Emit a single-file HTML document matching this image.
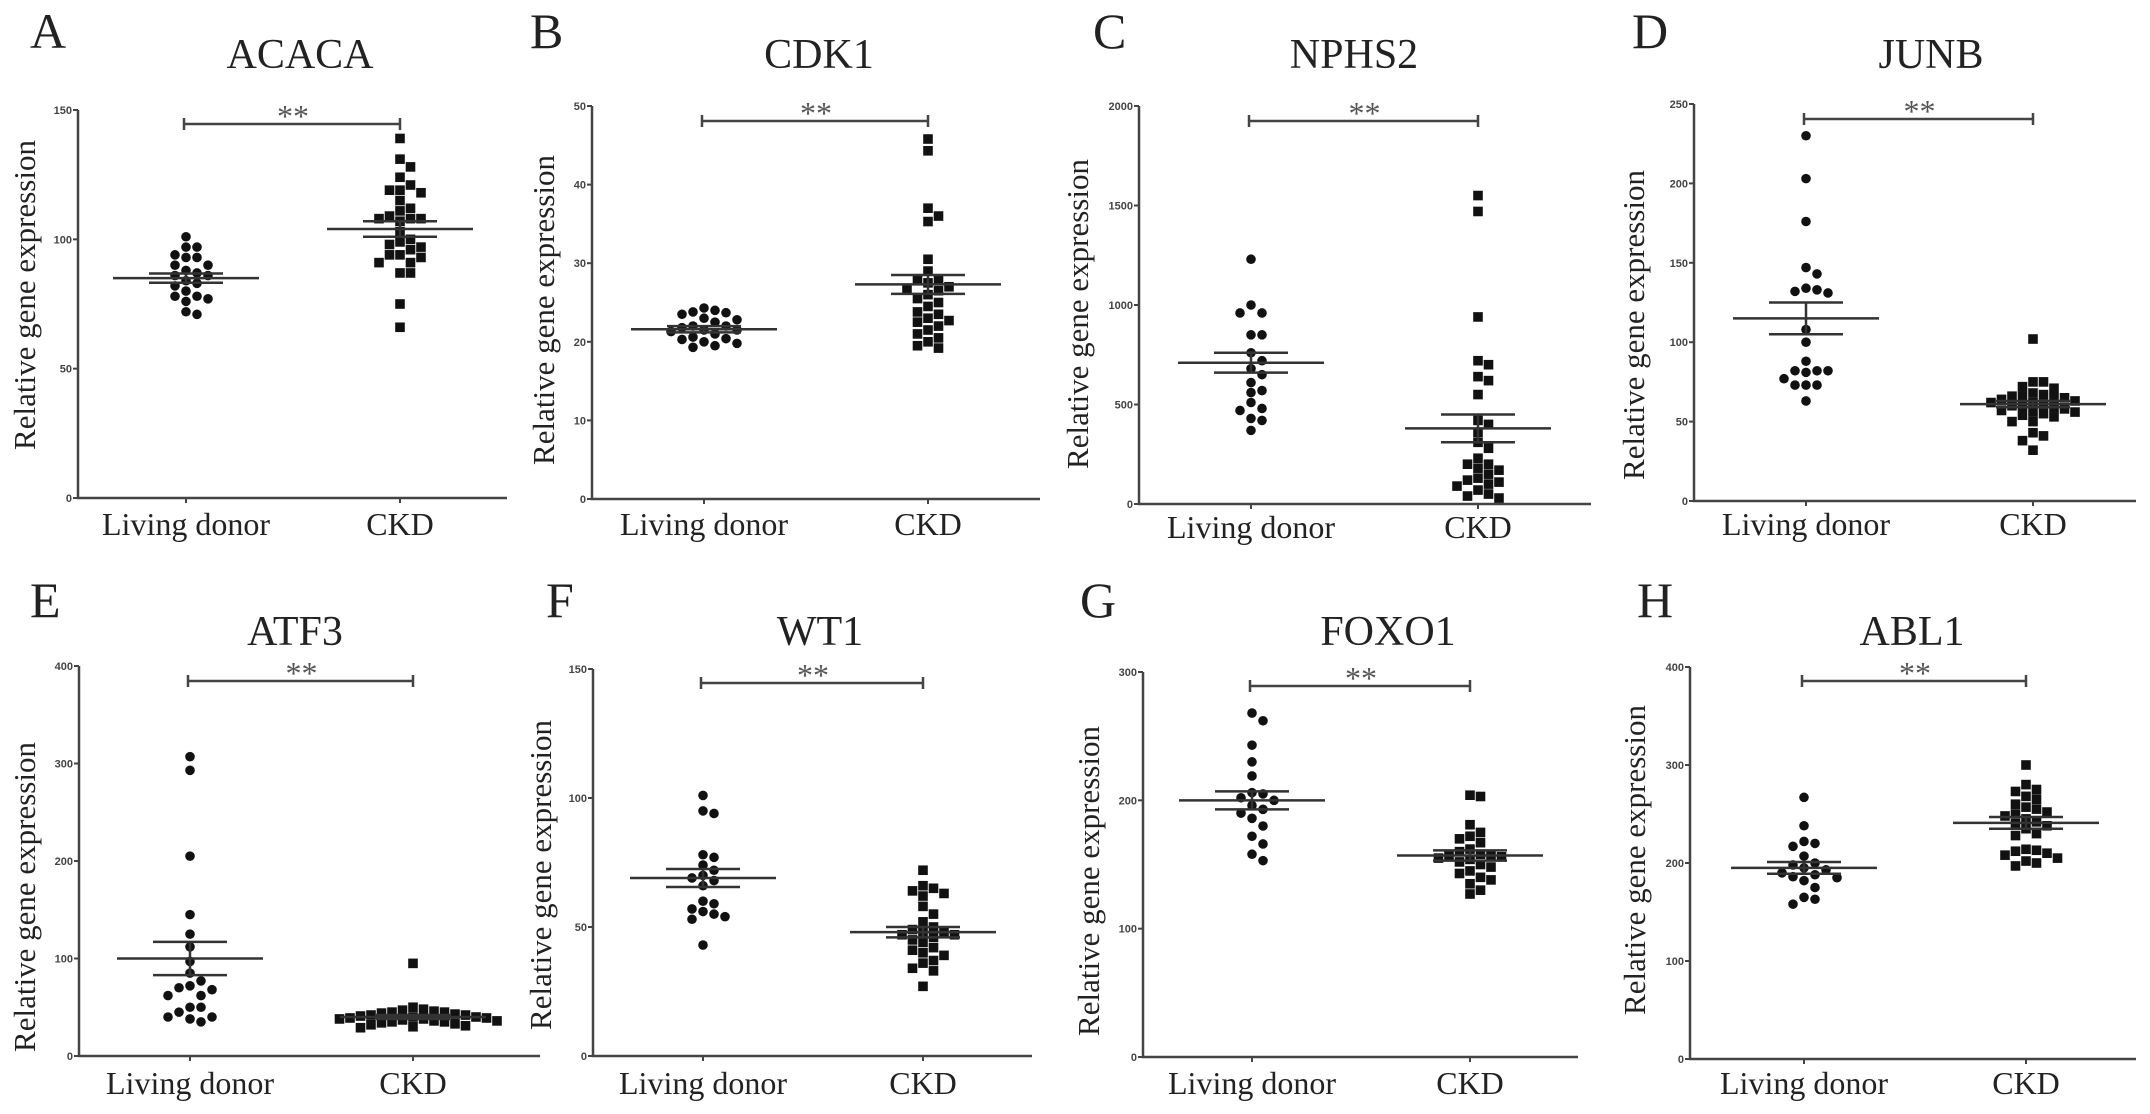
<!DOCTYPE html>
<html><head><meta charset="utf-8">
<style>
html,body{margin:0;padding:0;background:#fff;}
svg{display:block;}
text{font-family:"Liberation Serif",serif;fill:#222;}
.tick{font-family:"Liberation Sans",sans-serif;font-weight:bold;font-size:11px;fill:#444;}
</style></head>
<body>
<svg id="fig" width="2150" height="1114" viewBox="0 0 2150 1114" xmlns="http://www.w3.org/2000/svg"></svg>
<script>
// ---- data ----
const panelLetters = ["A","B","C","D","E","F","G","H"];
const geneNames = ["ACACA","CDK1","NPHS2","JUNB","ATF3","WT1","FOXO1","ABL1"];
const categories = ["Living donor","CKD"];
const yMaxes = [150,50,2000,250,400,150,300,400];
const yTickSteps = [50,10,500,50,100,50,100,100];
const donorValues = [
 [101,97,97,94,93,93,90,90,88,87,86,86,84,83,82,80,78,78,77,76,72,71],
 [24.3,24,23.8,23.7,23.5,23,22.8,22.5,22,22,21.8,21.5,21.5,21.3,21,20.6,20.4,20.3,20,19.8,19.5,19.3],
 [1230,1000,960,960,850,850,760,720,680,650,610,570,560,510,480,470,430,420,370],
 [230,203,176,147,143,134,133,132,131,108,100,88,82,82,81,82,77,73,73,73,63],
 [307,293,205,145,125,112,97,85,77,72,70,68,62,62,50,50,45,40,40,38,35],
 [101,95,94,78,77,74,72,70,69,68,66,60,59,57,56,55,54,53,43],
 [268,262,243,230,219,206,205,202,200,196,193,190,186,180,172,166,158,153],
 [267,238,222,220,217,207,200,198,195,193,190,188,186,185,182,175,165,163,158]
];
const ckdValues = [
 [139,131,128,124,121,119,119,118,115,112,111,109,108,108,108,107,103,100,99,98,97,96,94,94,93,91,91,87,87,75,66],
 [45.8,44.3,37,36,35.3,30.5,29,28,28,27.5,27,26.8,26.5,26,25.5,25,24.5,23.8,23.5,23,22.7,22.5,22,21.5,21,20.5,20,19.5,19.2],
 [1550,1470,940,720,700,640,620,550,420,400,360,310,280,230,200,200,180,170,150,130,120,110,100,90,70,50,40,30],
 [102,75,75,72,71,68,67,66,66,65,65,64,63,62,62,61,60,60,59,58,57,56,56,55,54,53,50,50,43,41,38,32],
 [95,50,48,47,46,45,45,44,43,42,42,41,40,40,39,39,38,38,37,36,36,35,35,34,33,32,31,30,29],
 [72,66,65,64,63,62,58,55,52,50,49,48,48,47,47,46,45,44,42,41,40,39,37,36,34,33,27],
 [204,203,181,175,172,170,167,162,160,158,157,157,156,155,154,152,150,148,145,143,140,138,135,130,127],
 [300,280,275,273,268,265,260,257,255,252,250,248,245,242,240,238,235,230,228,214,213,212,210,208,205,202,200,197]
];
const donorMeans = [85,21.6,710,115,100,69,200,195];
const donorSems = [1.8,0.4,50,10,17,3.5,7,6];
const ckdMeans = [104,27.3,380,61,40,48,157,241];
const ckdSems = [3,1.2,70,2,2,2,4,6];
const sigLabels = ["**","**","**","**","**","**","**","**"];

// ---- layout (pixel geometry, not data) ----
const L = [
 {ax:78,top:110,bot:498,xe:507,c1:186,c2:400,br:124,tx:300,ty:68,lx:30,ly:48,ylx:25,yly:295,xl:535},
 {ax:592,top:106,bot:499,xe:1040,c1:704,c2:928,br:121,tx:819,ty:68,lx:530,ly:48,ylx:544,yly:310,xl:535},
 {ax:1139,top:106,bot:504,xe:1591,c1:1251,c2:1478,br:121,tx:1354,ty:68,lx:1093,ly:48,ylx:1078,yly:314,xl:538},
 {ax:1694,top:104,bot:501,xe:2136,c1:1806,c2:2033,br:119,tx:1931,ty:68,lx:1632,ly:48,ylx:1634,yly:325,xl:535},
 {ax:79,top:666,bot:1056,xe:540,c1:190,c2:413,br:681,tx:295,ty:645,lx:30,ly:617,ylx:25,yly:897,xl:1094},
 {ax:593,top:669,bot:1056,xe:1032,c1:703,c2:923,br:683,tx:820,ty:645,lx:546,ly:617,ylx:541,yly:875,xl:1094},
 {ax:1143,top:672,bot:1057,xe:1578,c1:1252,c2:1470,br:686,tx:1388,ty:645,lx:1080,ly:617,ylx:1089,yly:881,xl:1094},
 {ax:1690,top:667,bot:1059,xe:2136,c1:1804,c2:2026,br:681,tx:1912,ty:645,lx:1637,ly:617,ylx:1635,yly:860,xl:1094}
];
const NS = "http://www.w3.org/2000/svg";
const svg = document.getElementById("fig");
function mk(tag, attrs, parent){
  const e = document.createElementNS(NS, tag);
  for (const k in attrs) e.setAttribute(k, attrs[k]);
  (parent||svg).appendChild(e);
  return e;
}
function swarm(vals, cx, yf, step){
  const placed=[]; const out=[];
  const sorted = vals.map((v,i)=>({v,i})).sort((a,b)=>b.v-a.v);
  sorted.forEach(o=>{
    const y=yf(o.v);
    for(let k=0;k<60;k++){
      const off = (k%2?1:-1)*Math.ceil(k/2)*step;
      const x=cx+off;
      if(!placed.some(p=>(p.x-x)**2+(p.y-y)**2 < (step*0.9)**2)){placed.push({x,y});out.push({x,y,v:o.v});break;}
    }
  });
  return out;
}
for(let p=0;p<8;p++){
  const g = mk("g",{});
  
  
  const c=L[p];
  const yf = v => c.bot - (v/yMaxes[p])*(c.bot-c.top);
  const letter = mk("text",{x:c.lx,y:c.ly,"font-size":50},g); letter.textContent=panelLetters[p];
  
  
  const title = mk("text",{x:c.tx,y:c.ty,"font-size":42,"text-anchor":"middle"},g); title.textContent=geneNames[p];
  
  
  const yl = mk("text",{x:0,y:0,"font-size":31,"text-anchor":"middle",transform:`translate(${c.ylx+10},${c.yly}) rotate(-90)`},g);
  yl.textContent="Relative gene expression";
  
  
  const axes = mk("path",{d:`M${c.ax},${c.top} V${c.bot} H${c.xe}`,stroke:"#444","stroke-width":2.5,fill:"none"},g);
  
  
  for(let t=0;t<=yMaxes[p]+1e-9;t+=yTickSteps[p]){
    const y=yf(t);
    const tk = mk("line",{x1:c.ax-5,x2:c.ax,y1:y,y2:y,stroke:"#444","stroke-width":2},g);
    
    
    const tl = mk("text",{x:c.ax-6,y:y+4,"text-anchor":"end",class:"tick"},g); tl.textContent=t;
    
    
  }
  [c.c1,c.c2].forEach((cx,i)=>{
    const tk = mk("line",{x1:cx,x2:cx,y1:c.bot,y2:c.bot+5,stroke:"#444","stroke-width":2},g);
    
    
    const xl = mk("text",{x:cx,y:c.xl,"font-size":32,"text-anchor":"middle"},g); xl.textContent=categories[i];
    
    
  });
  // points
  swarm(donorValues[p], c.c1, yf, 11).forEach(pt=>{
    const d = mk("circle",{cx:pt.x,cy:pt.y,r:4.8,fill:"#111"},g);
    
    
  });
  swarm(ckdValues[p], c.c2, yf, 10.5).forEach(pt=>{
    const s = mk("rect",{x:pt.x-4.8,y:pt.y-4.8,width:9.6,height:9.6,fill:"#111"},g);
    
    
  });
  // mean & sem
  [[c.c1,donorMeans[p],donorSems[p]],[c.c2,ckdMeans[p],ckdSems[p]]].forEach(([cx,m,s])=>{
    const ml = mk("line",{x1:cx-73,x2:cx+73,y1:yf(m),y2:yf(m),stroke:"#333","stroke-width":2.5},g);
    
    
    const sv = mk("line",{x1:cx,x2:cx,y1:yf(m+s),y2:yf(m-s),stroke:"#333","stroke-width":2.5},g);
    
    
    [m+s,m-s].forEach(v=>{
      const sl = mk("line",{x1:cx-37,x2:cx+37,y1:yf(v),y2:yf(v),stroke:"#333","stroke-width":2.5},g);
      
      
    });
  });
  // significance bracket
  const br = mk("path",{d:`M${c.c1-2},${c.br-6} V${c.br+6} M${c.c1-2},${c.br} H${c.c2} M${c.c2},${c.br-6} V${c.br+6}`,stroke:"#444","stroke-width":2.5,fill:"none"},g);
  
  
  const st = mk("text",{x:(c.c1+c.c2)/2,y:c.br+3,"font-size":32,"text-anchor":"middle",style:"fill:#555"},g);
  st.textContent=sigLabels[p];
  
  
}
</script>
</body></html>
